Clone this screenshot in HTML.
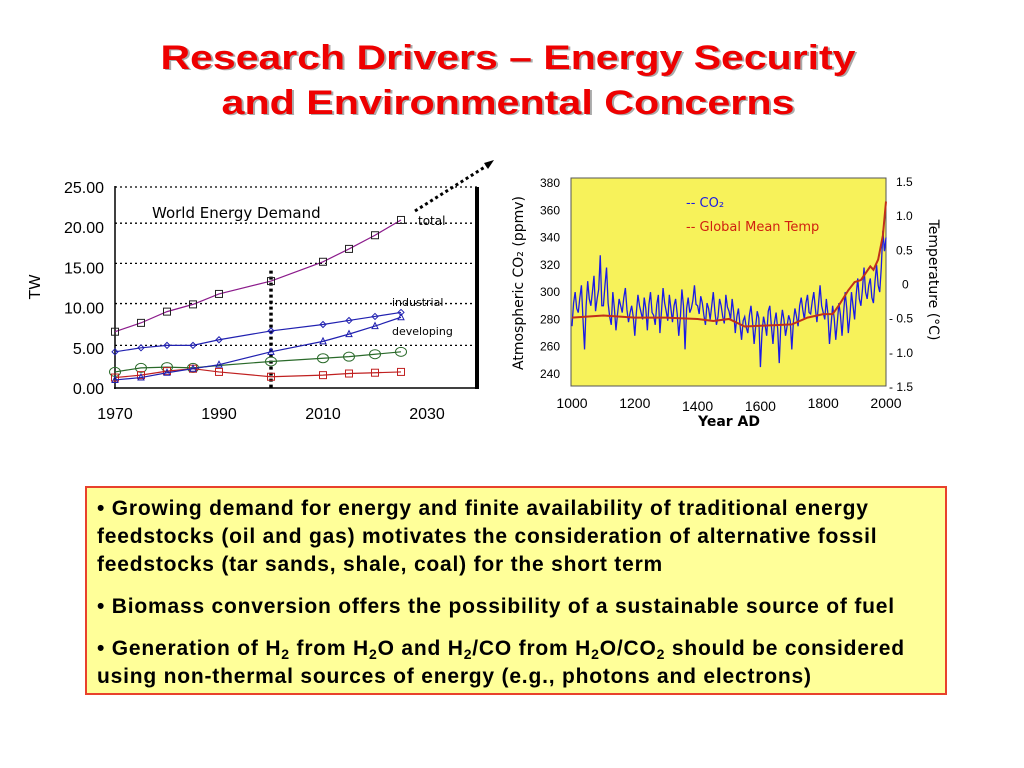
<!DOCTYPE html>
<html><head><meta charset="utf-8"><style>
body{margin:0;background:#fff;width:1024px;height:768px;overflow:hidden}
svg{position:absolute;left:0;top:0}
.box{position:absolute;left:85px;top:486px;background:#ffff99;border:2px solid #e8412c;font-family:"Liberation Sans",Arial,sans-serif;font-weight:bold;font-size:21px;letter-spacing:0.8px;line-height:28px;color:#000;padding:7px 0 0 10px;box-sizing:border-box;width:862px;height:209px;white-space:nowrap}
.box p{margin:0 0 14px 0}
sub{font-size:14px;line-height:0;vertical-align:-4px}
</style></head><body>
<svg id="s" width="1024" height="768" xmlns="http://www.w3.org/2000/svg" font-family="Liberation Sans, Arial, sans-serif">
<g font-weight="bold" font-size="34" text-anchor="middle">
<text x="510" y="70" fill="#aaa" textLength="695" lengthAdjust="spacingAndGlyphs">Research Drivers – Energy Security</text>
<text x="508" y="69" fill="#ee0000" textLength="695" lengthAdjust="spacingAndGlyphs">Research Drivers – Energy Security</text>
<text x="510" y="115" fill="#aaa" textLength="573" lengthAdjust="spacingAndGlyphs">and Environmental Concerns</text>
<text x="508" y="114" fill="#ee0000" textLength="573" lengthAdjust="spacingAndGlyphs">and Environmental Concerns</text>
</g>
<g id="left"></g>
<g id="right"></g>
<line x1="415" y1="211" x2="488" y2="165" stroke="#000" stroke-width="3" stroke-dasharray="3,3"/>
<polygon points="494,160 484,163 488,169" fill="#000"/>
</svg>
<div class="box">
<p>• Growing demand for energy and finite availability of traditional energy<br>feedstocks (oil and gas) motivates the consideration of alternative fossil<br>feedstocks (tar sands, shale, coal) for the short term</p>
<p>• Biomass conversion offers the possibility of a sustainable source of fuel</p>
<p>• Generation of H<sub>2</sub> from H<sub>2</sub>O and H<sub>2</sub>/CO from H<sub>2</sub>O/CO<sub>2</sub> should be considered<br>using non-thermal sources of energy (e.g., photons and electrons)</p>
</div>
<script>
const years=[1970,1975,1980,1985,1990,2000,2010,2015,2020,2025];
const totalTW=[7,8.1,9.5,10.4,11.7,13.3,15.7,17.3,19,20.9];
const industrialTW=[4.5,5,5.3,5.3,6,7.1,7.9,8.4,8.9,9.4];
const developingTW=[1,1.3,1.9,2.4,2.9,4.5,5.8,6.7,7.7,8.8];
const greenTW=[2,2.5,2.6,2.5,2.8,3.3,3.7,3.9,4.2,4.5];
const redTW=[1.3,1.6,2.1,2.4,2.0,1.4,1.6,1.8,1.9,2.0];
const yTicks=["0.00","5.00","10.00","15.00","20.00","25.00"];
const xTicks=[1970,1990,2010,2030];
const gridVals=[5.3,10.5,15.5,20.5,25];
const co2Years=[];for(let y=1000;y<=2000;y+=5)co2Years.push(y);
const co2=[275,292,300,288,285,296,305,280,258,290,308,295,290,300,312,286,295,302,327,290,
290,305,318,292,282,276,300,288,272,284,295,290,285,296,303,287,278,285,290,282,
268,285,298,290,285,280,296,288,272,291,300,285,283,276,291,298,270,286,303,292,
286,279,298,288,278,290,295,284,268,281,302,290,258,288,296,285,288,294,305,291,
290,284,297,292,283,276,292,288,280,290,300,286,276,282,295,290,282,277,298,289,
286,280,295,285,270,282,288,276,265,279,282,274,270,283,290,278,262,275,286,281,
245,270,282,276,268,286,290,275,262,278,285,273,248,276,287,280,268,275,283,279,
258,278,288,282,275,290,296,287,280,292,298,285,284,293,300,288,278,291,305,290,
285,280,295,284,262,276,290,281,265,278,292,283,268,285,300,288,270,282,300,290,
280,298,310,295,290,302,318,300,295,305,310,296,292,308,320,305,300,318,345,330,340];
const tempYears=[1000,1100,1200,1300,1400,1450,1500,1550,1600,1700,1750,1800,1830,1850,1880,1900,1920,1950,1960,1975,1990,2000];
const temp=[-0.5,-0.47,-0.5,-0.5,-0.52,-0.55,-0.52,-0.63,-0.62,-0.6,-0.5,-0.45,-0.45,-0.32,-0.1,0.02,0.05,0.25,0.2,0.35,0.7,1.2];
const co2Ticks=[240,260,280,300,320,340,360,380];
const tempTicks=[[1.5,"1.5"],[1.0,"1.0"],[0.5,"0.5"],[0,"0"],[-0.5,"- 0.5"],[-1.0,"- 1.0"],[-1.5,"- 1.5"]];
const yearTicks=[1000,1200,1400,1600,1800,2000];

const NS="http://www.w3.org/2000/svg";
function mk(p,t,a,txt){const e=document.createElementNS(NS,t);for(const k in a)e.setAttribute(k,a[k]);if(txt!=null)e.textContent=txt;p.appendChild(e);return e;}
const L=document.getElementById('left');
const lx=v=>115+(v-1970)*5.2, ly=v=>388-v*8.04;
let e;
e=mk(L,'rect',{x:115,y:187,width:362,height:201,fill:'#fff',stroke:'none'});

gridVals.forEach(v=>{e=mk(L,'line',{x1:115,x2:477,y1:ly(v),y2:ly(v),stroke:'#000','stroke-width':1.3,'stroke-dasharray':'2,3'});
});
e=mk(L,'line',{x1:115,y1:186,x2:115,y2:389,stroke:'#000','stroke-width':1.5});
e=mk(L,'line',{x1:114,y1:388,x2:478,y2:388,stroke:'#000','stroke-width':1.5});
e=mk(L,'line',{x1:477,y1:187,x2:477,y2:389,stroke:'#000','stroke-width':4});
e=mk(L,'line',{x1:lx(2000),y1:ly(14.6),x2:lx(2000),y2:388,stroke:'#000','stroke-width':3.5,'stroke-dasharray':'3,3'});
yTicks.forEach((t,i)=>{e=mk(L,'text',{x:104,y:ly(i*5)+6,'text-anchor':'end','font-size':16},t);});
xTicks.forEach(t=>{e=mk(L,'text',{x:lx(t),y:419,'text-anchor':'middle','font-size':16},t);});
e=mk(L,'text',{x:0,y:0,'font-size':16,transform:'translate(40,287) rotate(-90)','text-anchor':'middle'},'TW');
e=mk(L,'text',{x:152,y:218,'font-size':15,'font-family':'DejaVu Sans, sans-serif'},'World Energy Demand');
e=mk(L,'text',{x:418,y:225,'font-size':12,'font-family':'DejaVu Sans, sans-serif'},'total');
e=mk(L,'text',{x:392,y:306,'font-size':11,'font-family':'DejaVu Sans, sans-serif'},'industrial');
e=mk(L,'text',{x:392,y:335,'font-size':11,'font-family':'DejaVu Sans, sans-serif'},'developing');
function series(vals,color,marker,name,skip){
 const g=mk(L,'g',{});
 e=mk(g,'polyline',{points:vals.map((v,i)=>lx(years[i])+','+ly(v)).join(' '),fill:'none',stroke:color,'stroke-width':1.2});
 
 vals.forEach((v,i)=>{if(skip&&skip.includes(i))return;const x=lx(years[i]),y=ly(v);
  if(marker==='sq')e=mk(g,'rect',{x:x-3.5,y:y-3.5,width:7,height:7,fill:'none',stroke:color==='#8b1a8b'?'#222':color,'stroke-width':1});
  else if(marker==='di')e=mk(g,'polygon',{points:`${x},${y-3} ${x+3},${y} ${x},${y+3} ${x-3},${y}`,fill:'none',stroke:color,'stroke-width':1});
  else if(marker==='tri')e=mk(g,'polygon',{points:`${x},${y-3.5} ${x+3},${y+2.5} ${x-3},${y+2.5}`,fill:'none',stroke:color,'stroke-width':1});
  else e=mk(g,'ellipse',{cx:x,cy:y,rx:5.5,ry:4.5,fill:'none',stroke:color,'stroke-width':1});
  });
}
series(greenTW,'#2a6a2a','ci','other',[4]);
series(redTW,'#c02020','sq','red');
series(developingTW,'#2020b0','tri','developing');
series(industrialTW,'#2020b0','di','industrial');
series(totalTW,'#8b1a8b','sq','total');
const R=document.getElementById('right');
const rx=v=>572+(v-1000)*0.314, ry=v=>183+(380-v)*1.364, rt=v=>181+(1.5-v)*68.3;
e=mk(R,'rect',{x:571,y:178,width:315,height:208,fill:'#f7f25a',stroke:'#555','stroke-width':1});
co2Ticks.forEach(t=>{e=mk(R,'text',{x:560,y:ry(t)+4,'text-anchor':'end','font-size':12},t);});
tempTicks.forEach(t=>{e=mk(R,'text',{x:t[0]>=0&&t[1]!=="0"?896:(t[1]==="0"?902:889),y:rt(t[0])+5,'font-size':12},t[1]);});
yearTicks.forEach(t=>{e=mk(R,'text',{x:rx(t),y:t===1400||t===1600?411:408,'text-anchor':'middle','font-size':14},t);});
e=mk(R,'text',{x:729,y:426,'text-anchor':'middle','font-size':14,'font-weight':'bold','font-family':'DejaVu Sans, sans-serif'},'Year AD');
e=mk(R,'text',{x:0,y:0,'font-size':14,transform:'translate(523,283) rotate(-90)','text-anchor':'middle','font-family':'DejaVu Sans, sans-serif'},'Atmospheric CO₂ (ppmv)');
e=mk(R,'text',{x:0,y:0,'font-size':14,transform:'translate(929,280) rotate(90)','text-anchor':'middle','font-family':'DejaVu Sans, sans-serif'},'Temperature (°C)');
e=mk(R,'polyline',{points:co2.map((v,i)=>rx(co2Years[i])+','+ry(v)).join(' '),fill:'none',stroke:'#1a1ae6','stroke-width':1.3});
e=mk(R,'polyline',{points:temp.map((v,i)=>rx(tempYears[i])+','+rt(v)).join(' '),fill:'none',stroke:'#c0301a','stroke-width':2});
e=mk(R,'text',{x:686,y:207,'font-size':13,fill:'#1a1ae6','font-family':'DejaVu Sans, sans-serif'},'-- CO₂');
e=mk(R,'text',{x:686,y:231,'font-size':13,fill:'#d02010','font-family':'DejaVu Sans, sans-serif'},'-- Global Mean Temp');
</script>
</body></html>
